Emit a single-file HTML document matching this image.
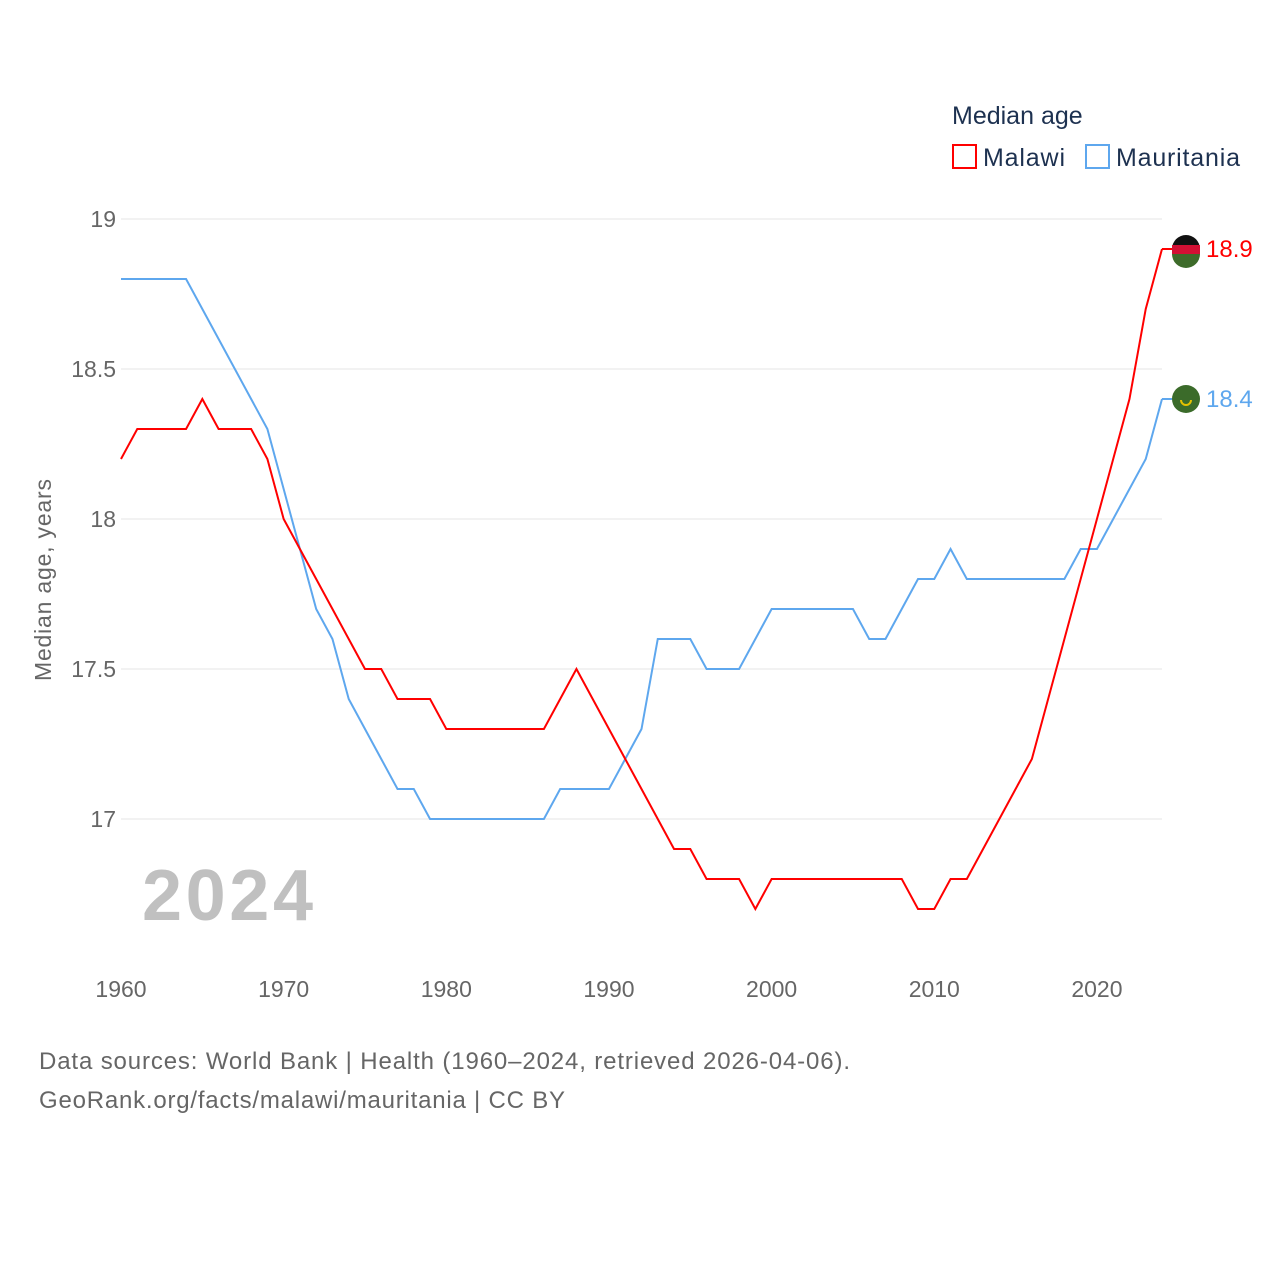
<!DOCTYPE html>
<html><head><meta charset="utf-8"><style>
body{margin:0;background:#fff;font-family:"Liberation Sans",sans-serif}
</style></head><body>
<svg id="chart" width="1280" height="1280" xmlns="http://www.w3.org/2000/svg" font-family="Liberation Sans, sans-serif">
<text x="952" y="124" font-size="25" fill="#1d3150">Median age</text>
<g><rect x="953" y="145" width="23" height="23" fill="none" stroke="#ff0000" stroke-width="2"/><text x="983" y="166" font-size="25" fill="#1d3150" textLength="82">Malawi</text></g>
<g><rect x="1086" y="145" width="23" height="23" fill="none" stroke="#5ea7ee" stroke-width="2"/><text x="1116" y="166" font-size="25" fill="#1d3150" textLength="124">Mauritania</text></g>
<text transform="translate(51,580) rotate(-90)" text-anchor="middle" font-size="23" fill="#666" textLength="202">Median age, years</text>
<text x="142" y="920" font-size="72" font-weight="bold" fill="#c0c0c0" textLength="171">2024</text>
<g id="grid"></g><g id="lines"></g>
<text x="39" y="1069" font-size="24" fill="#666" textLength="811">Data sources: World Bank | Health (1960–2024, retrieved 2026-04-06).</text>
<text x="39" y="1108" font-size="24" fill="#666" textLength="526">GeoRank.org/facts/malawi/mauritania | CC BY</text>
</svg>
<script>
const years=[];for(let y=1960;y<=2024;y++)years.push(y);
const malawi=[18.2,18.3,18.3,18.3,18.3,18.4,18.3,18.3,18.3,18.2,18.0,17.9,17.8,17.7,17.6,17.5,17.5,17.4,17.4,17.4,17.3,17.3,17.3,17.3,17.3,17.3,17.3,17.4,17.5,17.4,17.3,17.2,17.1,17.0,16.9,16.9,16.8,16.8,16.8,16.7,16.8,16.8,16.8,16.8,16.8,16.8,16.8,16.8,16.8,16.7,16.7,16.8,16.8,16.9,17.0,17.1,17.2,17.4,17.6,17.8,18.0,18.2,18.4,18.7,18.9];
const mauritania=[18.8,18.8,18.8,18.8,18.8,18.7,18.6,18.5,18.4,18.3,18.1,17.9,17.7,17.6,17.4,17.3,17.2,17.1,17.1,17.0,17.0,17.0,17.0,17.0,17.0,17.0,17.0,17.1,17.1,17.1,17.1,17.2,17.3,17.6,17.6,17.6,17.5,17.5,17.5,17.6,17.7,17.7,17.7,17.7,17.7,17.7,17.6,17.6,17.7,17.8,17.8,17.9,17.8,17.8,17.8,17.8,17.8,17.8,17.8,17.9,17.9,18.0,18.1,18.2,18.4];
const yTicks=[17,17.5,18,18.5,19];const yTickLabels=["17","17.5","18","18.5","19"];
const xTicks=[1960,1970,1980,1990,2000,2010,2020];
const sx=y=>121+(y-1960)*(1162-121)/64;
const sy=v=>219+(19-v)*300;
const NS="http://www.w3.org/2000/svg";
const grid=document.getElementById('grid'),lines=document.getElementById('lines');
function mk(tag,attrs,parent){const e=document.createElementNS(NS,tag);for(const k in attrs)e.setAttribute(k,attrs[k]);parent.appendChild(e);return e;}
yTicks.forEach((v,i)=>{
 const l=mk('line',{x1:121,x2:1162,y1:sy(v),y2:sy(v),stroke:'#e6e6e6','stroke-width':1},grid);
 
 
 const t=mk('text',{x:116,y:sy(v)+8,'text-anchor':'end','font-size':23,fill:'#666'},grid);
 t.textContent=yTickLabels[i];
 
 
});
xTicks.forEach(x=>{
 const t=mk('text',{x:sx(x),y:997,'text-anchor':'middle','font-size':23,fill:'#666'},grid);
 t.textContent=x;
 
 
});
function series(vals,color,name){
 const p=mk('polyline',{points:vals.map((v,i)=>sx(years[i])+','+sy(v)).join(' '),fill:'none',stroke:color,'stroke-width':2},lines);
 
 
 const last=vals[vals.length-1];
 const c=mk('circle',{cx:1186,cy:sy(last),r:14,fill:name==='malawi'?'#111':'#3b6b2a'},lines);
 
 
 if(name==='malawi'){mk('rect',{x:1172,y:sy(last)-4,width:28,height:9,fill:'#d21034'},lines);mk('path',{d:`M1172 ${sy(last)+5} h28 a14 14 0 0 1 -28 0z`,fill:'#3d6b2a'},lines);}
 else{mk('path',{d:`M1181 ${sy(last)+1} a5 5 0 0 0 10 0`,fill:'none',stroke:'#e5c100','stroke-width':2},lines);}
 mk('line',{x1:1162,x2:1172,y1:sy(last),y2:sy(last),stroke:color,'stroke-width':2},lines);
 const t=mk('text',{x:1206,y:sy(last)+8,'font-size':24,fill:color},lines);
 t.textContent=last.toFixed(1);
 
 
}
series(mauritania,'#5ea7ee','mauritania');
series(malawi,'#ff0000','malawi');
</script>
</body></html>
